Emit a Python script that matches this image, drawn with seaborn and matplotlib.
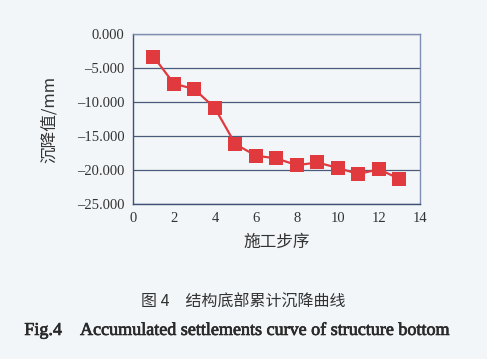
import matplotlib
matplotlib.use("Agg")
import matplotlib.pyplot as plt
import matplotlib.patheffects as pe
import seaborn as sns
import pandas as pd
from matplotlib.ticker import FuncFormatter

steps = [1, 2, 3, 4, 5, 6, 7, 8, 9, 10, 11, 12, 13]
settlement = [-3.3, -7.3, -8.1, -10.9, -16.2, -17.9, -18.3, -19.3, -18.9, -19.7, -20.6, -19.9, -21.3]
x_ticks = [0, 2, 4, 6, 8, 10, 12, 14]
y_ticks = [0, -5, -10, -15, -20, -25]
x_label = "施工步序"
y_label = "沉降值/mm"
caption_cn = "图 4　结构底部累计沉降曲线"
caption_en = "Fig.4　Accumulated settlements curve of structure bottom"

df = pd.DataFrame({"step": steps, "settlement": settlement})

sns.set_style("white")
plt.rcParams["font.family"] = ["Liberation Serif", "Noto Sans CJK SC", "DejaVu Sans"]

bg = "#f3f6f9"
fig = plt.figure(figsize=(4.87, 3.59), dpi=100, facecolor=bg)
ax = fig.add_axes([0.273, 0.432, 0.589, 0.473])
ax.set_facecolor(bg)

sns.lineplot(data=df, x="step", y="settlement", ax=ax, color="#e03a3e",
             marker="s", markersize=9.5, markeredgewidth=0, linewidth=1.6)

ax.set_xlim(0, 14)
ax.set_ylim(-25, 0)
ax.set_xticks(x_ticks)
ax.set_yticks(y_ticks)
ax.yaxis.set_major_formatter(FuncFormatter(lambda v, p: f"{v:.3f}".replace("-", "\u2013")))
ax.grid(axis="y", color="#4a5a7a", linewidth=0.9)
ax.grid(axis="x", visible=False)
for s in ax.spines.values():
    s.set_color("#7f8db0")
    s.set_linewidth(1.0)
ax.spines["left"].set_color("#3f4f77")
ax.spines["bottom"].set_color("#3f4f77")
ax.tick_params(axis="both", labelsize=10.5, colors="#333333", length=0, pad=6)
ax.set_xlabel(x_label, fontsize=12, family=["Noto Sans CJK SC"], color="#333333", labelpad=6)
ax.set_ylabel(y_label, fontsize=12, family=["Noto Sans CJK SC", "Liberation Serif"], color="#333333", labelpad=14)

fig.text(0.5, 1 - 302 / 359, caption_cn, ha="center", va="center", fontsize=11.5,
         family=["Noto Sans CJK SC"], color="#333333")
t = fig.text(0.05, 1 - 330 / 359, caption_en, ha="left", va="center", fontsize=13,
             family=["Liberation Serif", "Noto Sans CJK SC"], color="#2a2a2a")
t.set_path_effects([pe.withStroke(linewidth=0.5, foreground="#2a2a2a")])

fig.savefig("out.png", dpi=100, facecolor=bg)
